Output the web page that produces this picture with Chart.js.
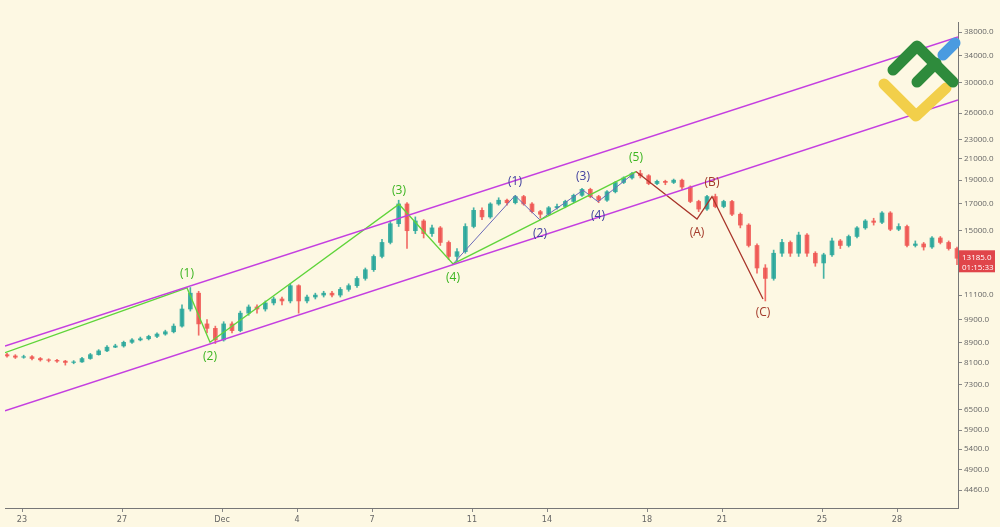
<!DOCTYPE html>
<html>
<head>
<script src="https://cdn.jsdelivr.net/npm/chart.js"></script>
<style>
  html, body { margin: 0; padding: 0; background: #fdf8e3; }
  #wrap { width: 1000px; height: 527px; }
</style>
</head>
<body>
<div id="wrap"><canvas id="myChart"></canvas></div>
<script>
// candles: 3 per day, first one at day -0.6 (day 0 = Nov 23)
const startDay = -0.6;
const candlesPerDay = 3;
const firstOpen = 8400;
const closes = [
  8350, 8300, 8320, 8250, 8200, 8180, 8150, 8100, 8120, 8250,
  8400, 8550, 8700, 8750, 8900, 9000, 9050, 9150, 9250, 9350,
  9600, 10400, 11200, 9700, 9500, 9000, 9700, 9400, 10200, 10500,
  10400, 10700, 10900, 10800, 11600, 10800, 11000, 11100, 11200, 11100,
  11400, 11600, 12000, 12500, 13300, 14200, 15500, 17000, 15000, 15700,
  14800, 15200, 14200, 13300, 13600, 15300, 16500, 16000, 17000, 17300,
  17100, 17600, 17000, 16400, 16200, 16700, 16800, 17200, 17700, 18200,
  17600, 17300, 18000, 18800, 19200, 19600, 19400, 18700, 18900, 18800,
  19000, 18400, 17200, 16600, 17600, 16800, 17200, 16200, 15400, 14000,
  12600, 12000, 13500, 14200, 13500, 14700, 13500, 12900, 13400, 14300,
  14000, 14600, 15200, 15700, 15600, 16300, 15100, 15300, 14000, 14100,
  13900, 14500, 14200, 13800, 13185
];
const highs = [
  8450, 8400, 8380, 8360, 8290, 8240, 8220, 8180, 8170, 8300,
  8450, 8600, 8760, 8820, 8950, 9060, 9120, 9200, 9300, 9420,
  9700, 10600, 11500, 11300, 9900, 9600, 9800, 9800, 10300, 10600,
  10600, 10800, 11000, 11000, 11700, 11650, 11100, 11200, 11300, 11300,
  11500, 11700, 12100, 12600, 13400, 14400, 15700, 17300, 17100, 16000,
  15800, 15400, 15300, 14300, 13800, 15500, 16700, 16700, 17100, 17500,
  17400, 17700, 17700, 17100, 16500, 16800, 17000, 17300, 17800, 18300,
  18300, 17700, 18100, 18900, 19300, 19700, 19900, 19500, 19000, 19000,
  19100, 19100, 18500, 17300, 17700, 17800, 17300, 17300, 16300, 15500,
  14100, 12800, 13700, 14400, 14300, 14900, 14800, 13600, 13500, 14500,
  14400, 14700, 15300, 15800, 15900, 16400, 16400, 15500, 15400, 14300,
  14200, 14600, 14600, 14300, 13900
];
const lows = [
  8300, 8250, 8260, 8200, 8150, 8120, 8100, 8000, 8050, 8100,
  8220, 8380, 8520, 8680, 8700, 8850, 8960, 9000, 9100, 9200,
  9300, 9550, 10300, 9200, 9300, 8850, 8950, 9300, 9350, 10100,
  10200, 10300, 10600, 10600, 10700, 10200, 10700, 10900, 11000, 11000,
  11000, 11300, 11500, 11900, 12400, 13200, 14100, 15300, 13800, 14800,
  14500, 14600, 14000, 13100, 13000, 13500, 15200, 15800, 15900, 16900,
  16900, 17000, 16900, 16300, 15900, 16100, 16600, 16700, 17100, 17600,
  17500, 17100, 17200, 17900, 18700, 19100, 19200, 18600, 18600, 18600,
  18700, 18200, 17100, 16400, 16500, 16700, 16700, 16100, 15200, 13900,
  12300, 10800, 11900, 13300, 13300, 13300, 13300, 12700, 12000, 13300,
  13800, 13900, 14500, 15100, 15400, 15500, 15000, 15000, 13900, 13900,
  13700, 13800, 14100, 13700, 12800
];

// x ticks (day offsets) and their labels
const tickDays = [0, 4, 8, 11, 14, 18, 21, 25, 28, 32, 35];
const tickLabels = ['23', '27', 'Dec', '4', '7', '11', '14', '18', '21', '25', '28'];
// y ticks (log price axis)
const priceTicks = [38000, 34000, 30000, 26000, 23000, 21000, 19000, 17000, 15000,
  11100, 9900, 8900, 8100, 7300, 6500, 5900, 5400, 4900, 4460];

// channel lines
const channelUpper = [{ x: -0.68, y: 8750 }, { x: 37.44, y: 37120 }];
const channelLower = [{ x: -0.68, y: 6460 }, { x: 37.44, y: 27650 }];

// wave counts
const greenWave = [
  { x: -0.68, y: 8480 }, { x: 6.6, y: 11480 }, { x: 7.52, y: 8900 },
  { x: 15.08, y: 16980 }, { x: 17.24, y: 12840 }, { x: 24.56, y: 19780 }
];
const blueWave = [
  { x: 17.24, y: 12840 }, { x: 19.72, y: 17680 }, { x: 20.72, y: 15770 },
  { x: 22.44, y: 18130 }, { x: 23.04, y: 17180 }, { x: 24.56, y: 19780 }
];
const redWave = [
  { x: 24.56, y: 19780 }, { x: 27.0, y: 15840 }, { x: 27.6, y: 17600 }, { x: 29.64, y: 10900 }
];

// wave labels: text, day, price, colour, above(-1)/below(+1)
const waveLabels = [
  ['(1)', 6.6, 11480, '#3cb521', -1], ['(2)', 7.52, 8900, '#3cb521', 1],
  ['(3)', 15.08, 16980, '#3cb521', -1], ['(4)', 17.24, 12840, '#3cb521', 1],
  ['(5)', 24.56, 19780, '#3cb521', -1],
  ['(1)', 19.72, 17680, '#3f3f9e', -1], ['(2)', 20.72, 15770, '#3f3f9e', 1],
  ['(3)', 22.44, 18130, '#3f3f9e', -1], ['(4)', 23.04, 17180, '#3f3f9e', 1],
  ['(A)', 27.0, 15840, '#a33a2a', 1], ['(B)', 27.6, 17600, '#a33a2a', -1],
  ['(C)', 29.64, 10900, '#a33a2a', 1]
];

const lastPrice = '13185.0';
const countdown = '01:15:33';

const upCol = 'rgba(38,166,154,0.85)';
const downCol = 'rgba(239,83,80,0.85)';

const bodies = [];
const wicks = [];
const colors = [];
closes.forEach((c, i) => {
  const o = i === 0 ? firstOpen : closes[i - 1];
  const x = startDay + i / candlesPerDay;
  bodies.push({ x: x, y: [o, c] });
  wicks.push({ x: x, y: [lows[i], highs[i]] });
  colors.push(c >= o ? upCol : downCol);
});

function lineSet(data, color, width) {
  return { type: 'line', data: data, borderColor: color, borderWidth: width,
    pointRadius: 0, fill: false, tension: 0 };
}

const overlay = {
  id: 'overlay',
  afterDatasetsDraw(chart) {
    const ctx = chart.ctx;
    const xs = chart.scales.x, ys = chart.scales.y;
    ctx.save();
    ctx.font = '12px "Open Sans", sans-serif';
    ctx.textAlign = 'center';
    ctx.textBaseline = 'middle';
    waveLabels.forEach(([t, d, p, col, dir]) => {
      ctx.fillStyle = col;
      ctx.fillText(t, xs.getPixelForValue(d), ys.getPixelForValue(p) + dir * 14);
    });
    // logo
    ctx.lineCap = 'round';
    ctx.lineJoin = 'round';
    ctx.lineWidth = 11;
    ctx.strokeStyle = '#f2cf4a';
    ctx.beginPath(); ctx.moveTo(884, 84); ctx.lineTo(916, 116); ctx.lineTo(946, 88); ctx.stroke();
    ctx.strokeStyle = '#2e8b3c';
    ctx.beginPath(); ctx.moveTo(893, 70); ctx.lineTo(917, 46); ctx.lineTo(953, 82); ctx.stroke();
    ctx.beginPath(); ctx.moveTo(917, 82); ctx.lineTo(936, 63); ctx.stroke();
    ctx.strokeStyle = '#4a9be0';
    ctx.beginPath(); ctx.moveTo(943, 55); ctx.lineTo(955, 43); ctx.stroke();
    // price tag
    const py = ys.getPixelForValue(13185);
    ctx.fillStyle = '#e0454a';
    ctx.fillRect(959, py - 8, 36, 22);
    ctx.fillStyle = '#ffffff';
    ctx.font = '8px "Open Sans", sans-serif';
    ctx.textAlign = 'left';
    ctx.fillText(lastPrice, 962, py - 1);
    ctx.fillText(countdown, 962, py + 9);
    ctx.restore();
  }
};

new Chart(document.getElementById('myChart'), {
  type: 'bar',
  data: {
    datasets: [
      lineSet(channelUpper, '#c43fe0', 1.5),
      lineSet(channelLower, '#c43fe0', 1.5),
      lineSet(greenWave, '#5fd43a', 1.3),
      lineSet(blueWave, '#6a6ab8', 1),
      lineSet(redWave, '#a8352a', 1.3),
      { data: wicks, backgroundColor: colors, barThickness: 1, grouped: false },
      { data: bodies, backgroundColor: colors, barThickness: 4, grouped: false }
    ]
  },
  options: {
    responsive: true,
    maintainAspectRatio: false,
    animation: false,
    layout: { padding: { left: 5, top: 22 } },
    plugins: { legend: { display: false }, tooltip: { enabled: false } },
    scales: {
      x: {
        type: 'linear',
        offset: false,
        min: -0.68,
        max: 37.44,
        grid: { drawOnChartArea: false, tickLength: 4, color: '#888', offset: false },
        border: { color: '#777' },
        afterBuildTicks: (axis) => { axis.ticks = tickDays.map((v) => ({ value: v })); },
        afterFit: (axis) => { axis.height = 19; },
        ticks: {
          autoSkip: false, maxRotation: 0, padding: 2,
          color: '#666', font: { size: 9, family: 'DejaVu Sans Condensed, sans-serif' },
          callback: (v) => tickLabels[tickDays.indexOf(v)]
        }
      },
      y: {
        type: 'logarithmic',
        position: 'right',
        min: 4100,
        max: 39820,
        grid: { drawOnChartArea: false, tickLength: 4, color: '#888' },
        border: { color: '#777' },
        afterBuildTicks: (axis) => { axis.ticks = priceTicks.map((v) => ({ value: v })); },
        afterFit: (axis) => { axis.width = 42; },
        ticks: {
          padding: 2, color: '#666',
          font: { size: 8, family: 'Open Sans, sans-serif' },
          callback: (v) => v.toFixed(1)
        }
      }
    }
  },
  plugins: [overlay]
});
</script>
</body>
</html>
